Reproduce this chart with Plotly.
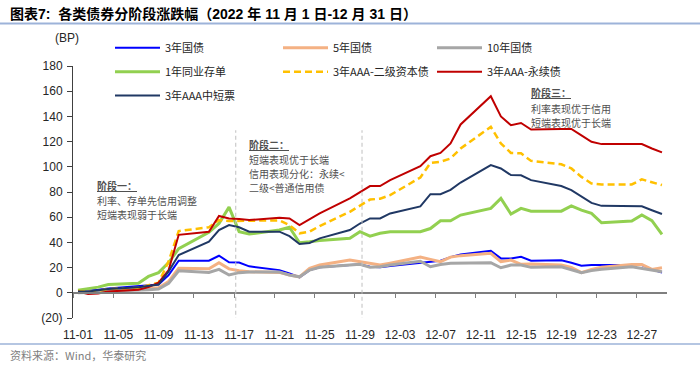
import plotly.graph_objects as go
import pandas as pd

# ---------------- data ----------------
dates = ["2022-11-01", "2022-11-02", "2022-11-03", "2022-11-04", "2022-11-07", "2022-11-08",
         "2022-11-09", "2022-11-10", "2022-11-11", "2022-11-14", "2022-11-15", "2022-11-16",
         "2022-11-17", "2022-11-18", "2022-11-21", "2022-11-22", "2022-11-23", "2022-11-24",
         "2022-11-25", "2022-11-28", "2022-11-29", "2022-11-30", "2022-12-01", "2022-12-02",
         "2022-12-05", "2022-12-06", "2022-12-07", "2022-12-08", "2022-12-09", "2022-12-12",
         "2022-12-13", "2022-12-14", "2022-12-15", "2022-12-16", "2022-12-19", "2022-12-20",
         "2022-12-21", "2022-12-22", "2022-12-23", "2022-12-26", "2022-12-27", "2022-12-28",
         "2022-12-29"]

gov3y = [1, 1.5, 2.5, 3.5, 5, 5.5, 6.5, 14, 25.5, 25.5, 29.4, 24.2, 24, 21, 18, 15.4, 12.3, 18,
         20.2, 22, 22.5, 20.7, 20.2, 21.3, 23.9, 24.2, 25.5, 28.3, 30.5, 33.4, 27.3, 27.3, 28.6,
         25.5, 25.9, 23.9, 21.5, 22, 22, 22.5, 22, 18.6, 16]
gov5y = [0.5, 0.5, 1, 2, 3, 3.5, 4, 9, 19.5, 19, 23.9, 19, 17.5, 16.7, 16.2, 14.1, 12.7, 19.4,
         22, 26, 24.7, 23.5, 22, 23.5, 28.3, 26.5, 24.7, 28.3, 29.5, 31.3, 24.7, 26, 22.6,
         22.8, 22, 20.2, 16, 18.6, 20.2, 22.5, 22.5, 18.6, 19.9]
gov10y = [0, 0, 0.5, 1.5, 2, 2.5, 3, 7.5, 17.5, 16.2, 18.6, 14.1, 16, 16.5, 16.5, 14, 12.7, 18,
          20.2, 22, 22.7, 20.2, 20.7, 22, 25, 20.7, 22.5, 23.4, 23.4, 23.9, 19.9, 22, 22, 20.2,
          20.7, 18.6, 16, 17.6, 18.6, 20.7, 19.4, 18, 16.7]
ncd1y = [2, 3, 4.5, 6.5, 7.5, 13, 16, 24, 35, 48, 55, 68, 48.5, 46.6, 49.8, 52, 39.7, 40.5,
         41.5, 43.2, 48.5, 45, 47.2, 48.5, 48.5, 51, 57.2, 57.2, 61.7, 67, 74.9, 62.5, 67, 64.8,
         64.8, 69, 65.6, 63, 55.6, 56.9, 61.7, 57.2, 46.4]
tier2 = [1.5, 1, 1.5, 3, 4, 6, 8, 25, 49, 52, 57.7, 57, 57, 57.2, 57.5, 53.7, 47.2, 48.5, 53,
         64.3, 69, 74, 74.7, 77.5, 91.5, 103, 104, 106.6, 114.5, 131.7, 118.5, 111, 110.7,
         104.7, 102, 98.7, 92, 86.8, 86, 86, 90, 87.8, 85.5]
perp = [1, -1, -0.5, 1, 2.5, 4.5, 8, 18, 46, 48.4, 61, 59, 58.5, 57.7, 59.5, 59, 53.7, 58.5, 63,
        75, 80, 84.7, 84.7, 89.4, 100.5, 108.4, 111, 118.5, 133.6, 156, 140, 133, 134.8, 129.6,
        130, 130, 125, 119.8, 118, 118, 118, 114.5, 111.4]
mtn3y = [1, 1, 2, 3, 4.5, 5.5, 6.5, 17, 30, 40.5, 49.8, 53.7, 52, 48.5, 48.5, 45, 38.7, 39.6,
         43.2, 49.8, 55, 59, 59, 63, 68.6, 78.3, 78.3, 81.7, 87.5, 101.3, 98.7, 93.4, 93.3,
         89.4, 84.7, 81.5, 76.2, 71.4, 69, 68.8, 68.6, 65.5, 62.5]

series_names = ["3年国债", "5年国债", "10年国债", "1年同业存单", "3年AAA-二级资本债",
                "3年AAA-永续债", "3年AAA中短票"]
x_tick_dates = pd.date_range("2022-11-01", "2022-12-27", freq="4D")
y_tick_vals = [-20, 0, 20, 40, 60, 80, 100, 120, 140, 160, 180]
y_tick_text = ["(20)", "0", "20", "40", "60", "80", "100", "120", "140", "160", "180"]

title_text = "<b>图表7:  各类债券分阶段涨跌幅（2022 年 11 月 1 日-12 月 31 日）</b>"
source_text = "资料来源：Wind，华泰研究"
stage_dates = ["2022-11-16 16:00", "2022-11-29 05:00"]
stage_notes = [
    ["阶段一：", "利率、存单先信用调整", "短端表现弱于长端"],
    ["阶段二：", "短端表现优于长端", "信用表现分化：永续<", "二级<普通信用债"],
    ["阶段三：", "利率表现优于信用", "短端表现优于长端"],
]

# ---------------- layout helpers ----------------
W, H = 700, 368
ML, MR, MT, MB = 73, 33, 66, 50
PW, PH = W - ML - MR, H - MT - MB
def px(x):
    return (x - ML) / PW
def py(y):
    return (H - MB - y) / PH

FONT = "Liberation Sans, Arial, Noto Sans CJK SC, sans-serif"
CJK = "Noto Sans CJK SC, Liberation Sans, sans-serif"

styles = [
    dict(color="#0000FF", width=2, dash="solid"),
    dict(color="#F4B183", width=3, dash="solid"),
    dict(color="#A6A6A6", width=3, dash="solid"),
    dict(color="#92D050", width=3, dash="solid"),
    dict(color="#FFC000", width=2.5, dash="7px,4px"),
    dict(color="#C00000", width=2, dash="solid"),
    dict(color="#203864", width=2, dash="solid"),
]
# legend slot (pixel position of the legend box) for each series
legend_pos = [(110, 47.7), (278, 47.7), (432, 47.7),
              (110, 71.7), (278, 71.7), (432, 71.7),
              (110, 95.5)]
legend_ids = ["legend"] + ["legend%d" % i for i in range(2, 8)]
values = [gov3y, gov5y, gov10y, ncd1y, tier2, perp, mtn3y]

x = pd.to_datetime(dates)
fig = go.Figure()
for name, vals, st, lg in zip(series_names, values, styles, legend_ids):
    fig.add_trace(go.Scatter(x=x, y=vals, mode="lines", name=name, line=st, legend=lg,
                             hoverinfo="skip"))

# invisible trace carrying the zero-line axis
fig.add_trace(go.Scatter(x=x, y=gov3y, xaxis="x2", mode="lines", opacity=0,
                         showlegend=False, hoverinfo="skip"))

x_range = ["2022-10-31 12:00", "2022-12-29 12:00"]

legend_layout = {}
for lg, (lx, ly) in zip(legend_ids, legend_pos):
    legend_layout[lg] = dict(x=px(lx), y=py(ly), orientation="h", xanchor="left",
                             yanchor="middle", font=dict(family=CJK, size=11, color="#262626"),
                             bgcolor="rgba(0,0,0,0)", itemwidth=45)

shapes = []
for sd in stage_dates:
    shapes.append(dict(type="line", xref="x", yref="y", x0=sd, x1=sd, y0=-23, y1=129,
                       line=dict(color="#BFBFBF", width=1, dash="4px,3px")))
shapes.append(dict(type="line", xref="paper", yref="paper", x0=px(0), x1=px(700),
                   y0=py(23.5), y1=py(23.5), line=dict(color="#9DB3D9", width=2)))
shapes.append(dict(type="line", xref="paper", yref="paper", x0=px(0), x1=px(700),
                   y0=py(344), y1=py(344), line=dict(color="#9DB3D9", width=1.5)))

ann_font = dict(family=CJK, size=10, color="#505050")
annotations = [
    dict(text=title_text, x=px(8), y=py(14), xref="paper", yref="paper", xanchor="left",
         yanchor="middle", showarrow=False, font=dict(family=FONT, size=14, color="#000000")),
    dict(text=source_text, x=px(8), y=py(355), xref="paper", yref="paper", xanchor="left",
         yanchor="middle", showarrow=False, font=dict(family=CJK, size=11, color="#7F7F7F")),
    dict(text="(BP)", x=px(67), y=py(38), xref="paper", yref="paper", xanchor="center",
         yanchor="middle", showarrow=False, font=dict(family=FONT, size=12, color="#262626")),
]
note_pos = [(95, 185), (247, 144), (529, 93)]
for lines, (nx, ny) in zip(stage_notes, note_pos):
    for i, line in enumerate(lines):
        if i == 0:
            txt, yy = "<b><u>%s</u></b>" % line, ny
        else:
            txt, yy = line, ny + 15.3 + (i - 1) * 14.3
        annotations.append(dict(text=txt, x=px(nx), y=py(yy), xref="paper",
                                yref="paper", xanchor="left", yanchor="middle",
                                showarrow=False, font=ann_font))

fig.update_layout(
    width=W, height=H,
    margin=dict(l=ML, r=MR, t=MT, b=MB, autoexpand=False),
    paper_bgcolor="white", plot_bgcolor="white",
    font=dict(family=FONT, size=12, color="#262626"),
    showlegend=True,
    xaxis=dict(type="date", range=x_range, tickvals=x_tick_dates, tickformat="%m-%d",
               showline=False, ticks="", showgrid=False, zeroline=False,
               ticklabelstandoff=8,
               tickfont=dict(family=FONT, size=12, color="#262626")),
    xaxis2=dict(type="date", overlaying="x", matches="x", anchor="free", position=0.1,
                tickvals=x_tick_dates - pd.Timedelta(hours=12), showticklabels=False,
                showline=True, linecolor="#7F7F7F", linewidth=2, ticks="outside",
                ticklen=4, tickcolor="#7F7F7F", tickwidth=1, showgrid=False, zeroline=False),
    yaxis=dict(range=[-20, 180], tickvals=y_tick_vals, ticktext=y_tick_text,
               showline=True, linecolor="#404040", linewidth=1, ticks="outside",
               ticklen=5, tickcolor="#404040", showgrid=False, zeroline=False,
               ticklabelstandoff=2,
               tickfont=dict(family=FONT, size=12, color="#262626")),
    shapes=shapes,
    annotations=annotations,
    **legend_layout,
)

fig.write_html("out.html", config={"displayModeBar": False},
               post_script="document.body.style.margin='0';document.body.style.overflow='hidden';")
